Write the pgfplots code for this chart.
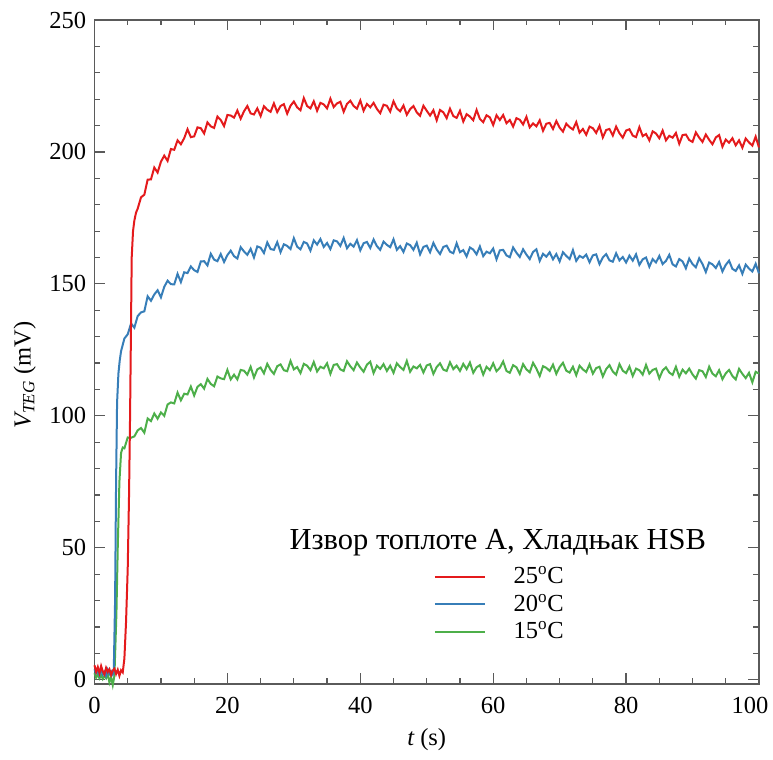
\documentclass[border=0pt]{standalone}
\usepackage{fontspec}
\setmainfont{Liberation Serif}
\usepackage{pgfplots}
\pgfplotsset{compat=1.18}
\definecolor{cred}{HTML}{E41A1C}
\definecolor{cblue}{HTML}{377EB8}
\definecolor{cgreen}{HTML}{4DAF4A}
\definecolor{axgray}{HTML}{5A5A5A}
\begin{document}
\fontsize{24.5}{29}\selectfont
\begin{tikzpicture}
\begin{axis}[
  width=664.5pt, height=664pt, scale only axis,
  xmin=0, xmax=100, ymin=-1.6, ymax=250,
  xtick={0,20,...,100}, ytick={0,50,...,250},
  xticklabels={0,20,40,60,80,{\hspace*{-26pt}100\hspace*{-8pt}}},
  minor x tick num=3, minor y tick num=4,
  tick align=inside,
  major tick length=10.5pt, minor tick length=5.5pt,
  axis line style={axgray, line width=1.4pt},
  every tick/.style={axgray, line width=1.2pt},
  tick label style={font=\fontsize{24.5}{29}\selectfont},
  xticklabel style={yshift=-5pt},
  /pgf/number format/assume math mode=true,
  label style={font=\fontsize{24.5}{29}\selectfont},
  xlabel={{\itshape t} (s)},
  ylabel={{\itshape V}\textsubscript{\itshape TEG} (mV)},
  xlabel style={at={(axis description cs:0.5,-0.0843)}, anchor=center},
  ylabel style={at={(axis description cs:-0.105,0.465)}, anchor=center},
  clip=false,
  reverse legend,
  legend cell align=left,
  legend style={draw=none, fill=none, at={(axis description cs:0.506,0.183)}, anchor=north west,
    font=\fontsize{24.5}{29}\selectfont, row sep=2.5pt, column sep=26pt,
    nodes={inner sep=2pt}},
  legend image code/.code={\draw[#1, line width=1.8pt] (0pt,0pt) -- (50pt,0pt);},
]
\coordinate (bl) at (axis description cs:-0.1422,-0.1069);
\coordinate (tr) at (axis description cs:1.0211,1.0301);

\addplot[cgreen, line width=2pt] coordinates {
(0,2.5)(0.25,0.8)(0.5,2.0)(0.75,0.5)(1,1.8)(1.25,0.3)(1.5,1.5)(1.75,0.6)(2,2.2)(2.25,-1.0)(2.5,1.0)(2.75,-2.0)(3,1.5)(3.3,25)(3.5,50)(3.75,75)(4,86)(4.25,88)
(4.5,87.7)(5,91.8)(5.5,91.7)(6,92.2)(6.5,94.5)(7,95.4)(7.5,93.6)(8,99.0)(8.5,98.0)(9,100.9)
(9.5,98.9)(10,101.3)(10.5,100.0)(11,104.3)(11.5,105.1)(12,104.7)(12.5,108.8)(13,105.9)(13.5,108.4)(14,108.1)
(14.5,111.1)(15,107.7)(15.5,111.0)(16,112.0)(16.5,110.3)(17,114.0)(17.5,112.1)(18,111.2)(18.5,114.9)(19,114.2)
(19.5,113.9)(20,117.4)(20.5,113.8)(21,115.6)(21.5,113.8)(22,117.4)(22.5,117.1)(23,115.6)(23.5,118.6)(24,114.5)
(24.5,117.6)(25,118.3)(25.5,116.1)(26,119.7)(26.5,117.4)(27,115.9)(27.5,118.8)(28,119.5)(28.5,117.3)(29,116.9)
(29.5,120.8)(30,117.6)(30.5,118.5)(31,116.2)(31.5,119.7)(32,119.0)(32.5,117.3)(33,120.4)(33.5,116.8)(34,118.6)
(34.5,118.0)(35,119.9)(35.5,115.9)(36,119.3)(36.5,119.6)(37,117.6)(37.5,117.0)(38,120.7)(38.5,118.8)(39,117.3)
(39.5,120.2)(40,118.3)(40.5,116.7)(41,119.4)(41.5,120.5)(42,116.2)(42.5,119.0)(43,117.8)(43.5,119.6)(44,117.0)
(44.5,119.0)(45,116.3)(45.5,119.9)(46,118.5)(46.5,117.4)(47,120.8)(47.5,116.7)(48,118.7)(48.5,118.0)(49,119.3)
(49.5,116.4)(50,119.1)(50.5,119.6)(51,115.9)(51.5,118.5)(52,119.9)(52.5,117.5)(53,117.0)(53.5,120.3)(54,117.7)
(54.5,119.0)(55,117.0)(55.5,119.7)(56,117.7)(56.5,120.2)(57,116.3)(57.5,118.4)(58,119.2)(58.5,115.6)(59,118.6)
(59.5,117.3)(60,119.9)(60.5,116.9)(61,118.2)(61.5,120.6)(62,117.0)(62.5,116.3)(63,119.2)(63.5,118.4)(64,115.9)
(64.5,119.6)(65,117.6)(65.5,116.5)(66,120.1)(66.5,117.9)(67,115.1)(67.5,118.8)(68,118.2)(68.5,117.0)(69,119.4)
(69.5,115.9)(70,118.5)(70.5,120.1)(71,117.1)(71.5,116.4)(72,118.6)(72.5,115.4)(73,119.0)(73.5,117.6)(74,116.6)
(74.5,119.5)(75,116.0)(75.5,118.1)(76,118.6)(76.5,114.9)(77,117.7)(77.5,119.2)(78,116.8)(78.5,115.6)(79,119.6)
(79.5,117.1)(80,116.2)(80.5,118.7)(81,115.1)(81.5,117.9)(82,117.3)(82.5,115.6)(83,119.3)(83.5,116.0)(84,117.4)
(84.5,117.9)(85,114.2)(85.5,117.2)(86,118.4)(86.5,116.4)(87,115.5)(87.5,118.6)(88,114.8)(88.5,117.5)(89,116.1)
(89.5,117.9)(90,115.7)(90.5,114.1)(91,117.3)(91.5,116.9)(92,114.7)(92.5,118.6)(93,116.0)(93.5,115.0)(94,117.3)
(94.5,113.9)(95,116.1)(95.5,117.4)(96,115.1)(96.5,113.8)(97,117.8)(97.5,115.9)(98,114.3)(98.5,116.3)(99,112.7)
(99.5,116.7)(100,116.0)
};
\addlegendentry{15\textsuperscript{o}C}

\addplot[cblue, line width=2pt] coordinates {
(0,4.0)(0.25,2.5)(0.5,3.5)(0.75,1.8)(1,4.2)(1.25,2.0)(1.5,3.0)(1.75,1.5)(2,3.8)(2.25,2.2)(2.5,3.2)(2.75,2.0)(2.9,3.0)(3.1,30)(3.25,75)(3.4,105)(3.6,116)(3.8,121)(4,124.5)
(4.5,129.3)(5,130.9)(5.5,135.0)(6,133.4)(6.5,137.8)(7,139.2)(7.5,139.6)(8,145.3)(8.5,143.6)(9,146.0)
(9.5,147.6)(10,144.9)(10.5,148.9)(11,151.2)(11.5,149.9)(12,149.8)(12.5,153.8)(13,150.7)(13.5,154.4)(14,154.1)
(14.5,156.6)(15,155.2)(15.5,154.5)(16,158.5)(16.5,158.6)(17,157.0)(17.5,161.4)(18,159.2)(18.5,158.6)(19,161.3)
(19.5,158.3)(20,160.9)(20.5,162.6)(21,160.5)(21.5,159.6)(22,163.9)(22.5,162.3)(23,161.0)(23.5,163.3)(24,160.0)
(24.5,164.2)(25,163.7)(25.5,161.7)(26,165.7)(26.5,163.2)(27,162.9)(27.5,165.8)(28,162.0)(28.5,165.0)(29,164.4)
(29.5,163.2)(30,167.3)(30.5,164.1)(31,163.1)(31.5,165.9)(32,165.3)(32.5,162.6)(33,166.5)(33.5,164.9)(34,167.0)
(34.5,164.0)(35,165.5)(35.5,163.2)(36,166.5)(36.5,166.1)(37,164.4)(37.5,167.4)(38,163.5)(38.5,165.2)(39,164.1)
(39.5,166.6)(40,162.7)(40.5,165.4)(41,165.9)(41.5,163.6)(42,166.8)(42.5,164.3)(43,162.9)(43.5,166.0)(44,164.8)
(44.5,163.9)(45,166.9)(45.5,162.9)(46,164.3)(46.5,162.1)(47,165.3)(47.5,164.7)(48,162.9)(48.5,165.6)(49,161.2)
(49.5,164.0)(50,164.5)(50.5,162.0)(51,165.5)(51.5,163.0)(52,161.3)(52.5,164.0)(53,164.5)(53.5,162.2)(54,161.6)
(54.5,165.4)(55,162.0)(55.5,162.8)(56,160.4)(56.5,163.8)(57,163.0)(57.5,161.2)(58,164.2)(58.5,160.5)(59,162.2)
(59.5,161.6)(60,163.4)(60.5,159.3)(61,162.7)(61.5,162.9)(62,160.8)(62.5,160.1)(63,163.8)(63.5,161.8)(64,160.2)
(64.5,163.1)(65,161.1)(65.5,159.4)(66,162.1)(66.5,163.1)(67,158.7)(67.5,161.4)(68,160.3)(68.5,162.0)(69,159.3)
(69.5,161.3)(70,158.5)(70.5,162.0)(71,160.6)(71.5,159.4)(72,162.8)(72.5,158.7)(73,160.6)(73.5,159.9)(74,161.1)
(74.5,158.2)(75,160.8)(75.5,161.2)(76,157.5)(76.5,160.0)(77,161.3)(77.5,158.9)(78,158.4)(78.5,161.6)(79,158.9)
(79.5,160.2)(80,158.1)(80.5,160.7)(81,158.8)(81.5,161.2)(82,157.2)(82.5,159.3)(83,160.0)(83.5,156.5)(84,159.4)
(84.5,158.1)(85,160.6)(85.5,157.5)(86,158.7)(86.5,161.0)(87,157.4)(87.5,156.6)(88,159.4)(88.5,158.5)(89,155.9)
(89.5,159.6)(90,157.5)(90.5,156.3)(91,159.7)(91.5,157.5)(92,154.5)(92.5,158.1)(93,157.4)(93.5,156.0)(94,158.3)
(94.5,154.7)(95,157.2)(95.5,158.8)(96,155.7)(96.5,154.9)(97,157.0)(97.5,153.8)(98,157.3)(98.5,155.8)(99,154.7)
(99.5,157.6)(100,154.0)
};
\addlegendentry{20\textsuperscript{o}C}

\addplot[cred, line width=2pt] coordinates {
(0,5.5)(0.25,3.0)(0.5,4.8)(0.75,2.5)(1,5.2)(1.25,3.2)(1.5,2.0)(1.75,4.5)(2,3.0)(2.25,4.0)(2.5,1.8)(2.75,3.5)(3,4.2)(3.25,2.2)(3.5,3.8)(3.75,1.5)(4,3.6)(4.25,2.8)
(4.5,8)(4.75,22)(5,42)(5.2,70)(5.35,99)(5.5,135)(5.6,160)(5.8,170)(6,174)(6.25,177)(6.5,178.5)
(7,182.8)(7.5,183.8)(8,189.5)(8.5,189.6)(9,194.1)(9.5,192.2)(10,196.3)(10.5,198.6)(11,196.6)(11.5,201.1)
(12,200.8)(12.5,204.4)(13,202.9)(13.5,205.2)(14,208.6)(14.5,205.6)(15,205.9)(15.5,209.3)(16,209.0)(16.5,207.0)
(17,211.2)(17.5,209.7)(18,209.1)(18.5,213.4)(19,212.1)(19.5,209.8)(20,214.0)(20.5,213.8)(21,213.0)(21.5,215.7)
(22,212.6)(22.5,215.4)(23,217.4)(23.5,214.6)(24,214.2)(24.5,216.5)(25,213.6)(25.5,217.3)(26,216.0)(26.5,215.2)
(27,218.4)(27.5,215.1)(28,217.4)(28.5,218.1)(29,214.5)(29.5,217.5)(30,219.1)(30.5,216.9)(31,215.8)(31.5,220.4)
(32,217.4)(32.5,216.5)(33,219.2)(33.5,215.6)(34,218.6)(34.5,218.0)(35,216.5)(35.5,220.2)(36,217.0)(36.5,218.4)
(37,219.0)(37.5,215.2)(38,218.2)(38.5,219.4)(39,217.4)(39.5,216.4)(40,219.5)(40.5,215.6)(41,218.2)(41.5,216.9)
(42,218.6)(42.5,216.3)(43,214.7)(43.5,217.9)(44,217.5)(44.5,215.3)(45,219.2)(45.5,216.5)(46,215.4)(46.5,217.6)
(47,214.1)(47.5,216.2)(48,217.4)(48.5,215.0)(49,213.7)(49.5,217.5)(50,215.6)(50.5,213.8)(51,215.8)(51.5,212.0)
(52,215.9)(52.5,215.0)(53,212.8)(53.5,216.4)(54,213.6)(54.5,212.9)(55,215.6)(55.5,211.5)(56,214.3)(56.5,213.4)
(57,212.0)(57.5,215.9)(58,212.5)(58.5,211.3)(59,213.9)(59.5,213.1)(60,210.2)(60.5,213.9)(61,212.1)(61.5,214.0)
(62,210.9)(62.5,212.1)(63,209.6)(63.5,212.8)(64,212.2)(64.5,210.4)(65,213.3)(65.5,209.3)(66,210.8)(66.5,209.7)
(67,212.0)(67.5,208.0)(68,210.7)(68.5,211.0)(69,208.7)(69.5,211.7)(70,209.2)(70.5,207.7)(71,210.7)(71.5,209.4)
(72,208.5)(72.5,211.3)(73,207.3)(73.5,208.7)(74,206.5)(74.5,209.6)(75,209.0)(75.5,207.2)(76,209.9)(76.5,205.5)
(77,208.3)(77.5,208.7)(78,206.2)(78.5,209.6)(79,207.1)(79.5,205.4)(80,208.1)(80.5,208.6)(81,206.2)(81.5,205.6)
(82,209.4)(82.5,206.0)(83,206.8)(83.5,204.4)(84,207.8)(84.5,207.0)(85,205.2)(85.5,208.1)(86,204.4)(86.5,206.1)
(87,205.4)(87.5,207.2)(88,203.1)(88.5,206.4)(89,206.6)(89.5,204.5)(90,203.8)(90.5,207.4)(91,205.4)(91.5,203.8)
(92,206.6)(92.5,204.6)(93,202.9)(93.5,205.5)(94,206.4)(94.5,202.0)(95,204.7)(95.5,203.5)(96,205.2)(96.5,202.5)
(97,204.4)(97.5,201.6)(98,205.1)(98.5,203.6)(99,202.4)(99.5,205.8)(100,201.7)
};
\addlegendentry{25\textsuperscript{o}C}

\node[font=\fontsize{30.5}{35}\selectfont, anchor=center] at (axis cs:60.7,52) {Извор топлоте A, Хладњак HSB};
\end{axis}
\path (bl) rectangle (tr);
\end{tikzpicture}
\end{document}
